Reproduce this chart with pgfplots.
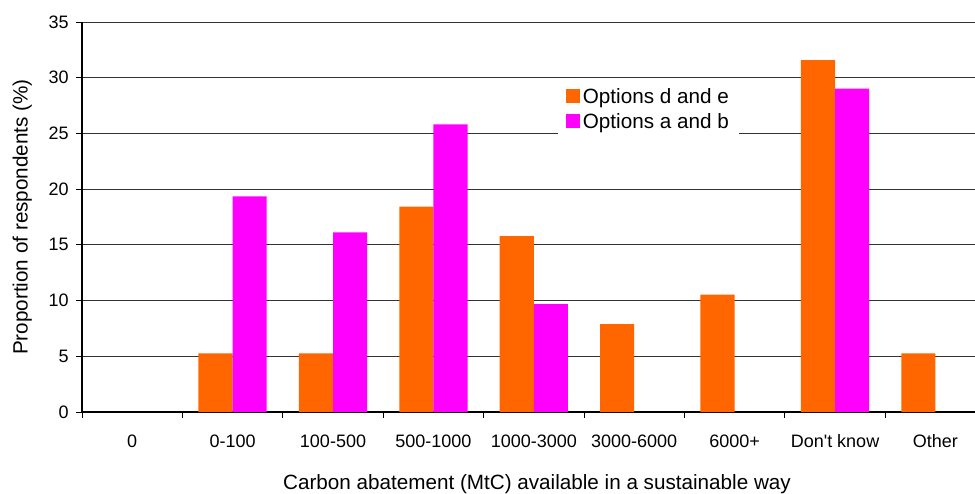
\documentclass[border=0pt]{standalone}
\usepackage{fontspec}
\setmainfont{Liberation Sans}[Ligatures=TeXOff]
\usepackage{pgfplots}
\pgfplotsset{compat=1.18}
\definecolor{dorange}{HTML}{FF6600}
\definecolor{dmag}{HTML}{FF00FF}
\begin{document}
\begin{tikzpicture}
\begin{axis}[
  at={(0,0)}, anchor=south west,
  scale only axis, width=669.75pt, height=292.5pt,
  xmin=-0.5, xmax=8.394, ymin=0, ymax=35,
  axis lines=left,
  axis line style={-, black, line width=0.8pt},
  ytick={0,5,...,35},
  ymajorgrids,
  grid style={black!80, line width=0.7pt},
  tick align=outside,
  major tick length=4.5pt,
  minor tick length=4.5pt,
  tick style={black, line width=0.7pt},
  xtick={0,...,8},
  xticklabels={0,0-100,100-500,500-1000,1000-3000,3000-6000,6000+,Don't know,Other},
  major x tick style={draw=none},
  minor xtick={-0.5,0.5,...,8.5},
  /pgf/number format/assume math mode=true,
  tick label style={font=\fontsize{13.5}{16}\selectfont},
  xticklabel style={yshift=-9pt},
  yticklabel style={xshift=-2pt},
  xlabel={Carbon abatement (MtC) available in a sustainable way},
  ylabel={Proportion of respondents (\%)},
  label style={font=\fontsize{15.5}{18}\selectfont},
  xlabel style={at={(axis description cs:0.5095,0)}, anchor=north, yshift=-43pt},
  ylabel style={at={(axis description cs:0,0.5)}, anchor=south, yshift=34pt},
  bar width=0.34,
  legend style={at={(axis description cs:0.533,0.848)}, anchor=north west, draw=none, fill=white,
    font=\fontsize{15.5}{18}\selectfont, row sep=2pt, inner xsep=6pt, inner ysep=3pt},
  legend image code/.code={\fill[#1] (0pt,-5pt) rectangle (10.5pt,5.5pt);},
  legend cell align=left,
]
\addplot[ybar, fill=dorange, draw=none, bar shift=-0.17] coordinates {
 (1,5.26) (2,5.26) (3,18.42) (4,15.79) (5,7.89) (6,10.53) (7,31.58) (8,5.26)};
\addlegendentry{Options d and e}
\addplot[ybar, fill=dmag, draw=none, bar shift=0.17] coordinates {
 (1,19.35) (2,16.13) (3,25.81) (4,9.68) (7,29.03)};
\addlegendentry{Options a and b}
\end{axis}
\pgfresetboundingbox
\path[use as bounding box] (-61.5pt,-60.75pt) rectangle (669.75pt,309pt);
\end{tikzpicture}
\end{document}
